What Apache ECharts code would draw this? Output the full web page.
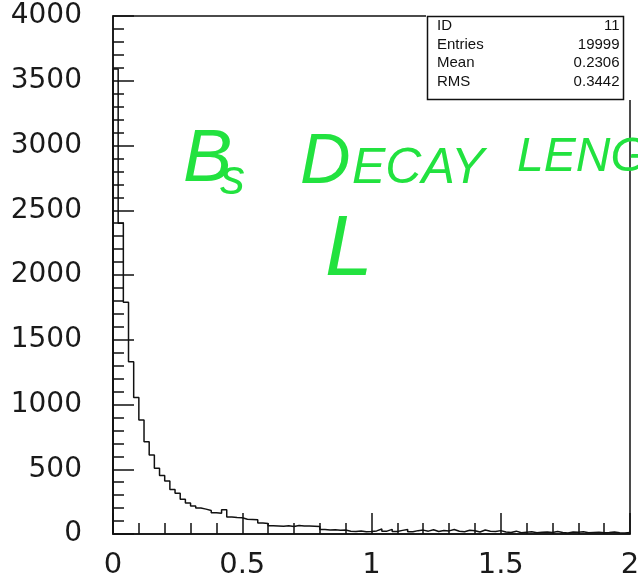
<!DOCTYPE html>
<html>
<head>
<meta charset="utf-8">
<script src="https://cdn.jsdelivr.net/npm/echarts@6/dist/echarts.min.js"></script>
<style>
  html, body { margin: 0; padding: 0; background: #fff; }
  #chart { width: 638px; height: 577px; }
</style>
</head>
<body>
<div id="chart"></div>
<script>
// Histogram of the Bs decay length L: 100 bins of width 0.02 between 0 and 2
const binStart = 0;
const binWidth = 0.02;
const counts = [
  3590, 2400, 1790, 1330, 1055, 880, 713, 610, 507, 452,
  410, 343, 314, 268, 240, 216, 200, 192, 182, 165,
  160, 188, 132, 128, 126, 114, 112, 110, 84, 82,
  64, 62, 60, 63, 58, 66, 61, 62, 60, 58,
  34, 31, 33, 29, 31, 22, 19, 23, 17, 19,
  24, 38, 22, 36, 20, 28, 34, 18, 26, 30,
  22, 33, 19, 27, 24, 35, 21, 18, 29, 25,
  16, 31, 22, 19, 26, 15, 12, 22, 10, 14,
  18, 9, 13, 16, 11, 20, 12, 8, 15, 13,
  17, 10, 12, 14, 9, 11, 16, 10, 8, 12
];

// Statistics box
const statNames = ['ID', 'Entries', 'Mean', 'RMS'];
const statValues = ['11', '19999', '0.2306', '0.3442'];

// Axis ranges
const xRange = [0, 2];
const yRange = [0, 4000];

// Step outline points: rise at the first edge, then one point per bin left edge,
// closing at the right end of the last bin.
const outline = [[binStart, 0]];
counts.forEach((c, i) => outline.push([+(binStart + i * binWidth).toFixed(4), c]));
outline.push([+(binStart + counts.length * binWidth).toFixed(4), counts[counts.length - 1]]);

const ink = '#111';
const green = '#22e23f';
const labelFont = '"DejaVu Sans", sans-serif';

const statGraphics = [];
statNames.forEach((name, i) => {
  const y = 25.5 + i * 18.9;
  statGraphics.push({
    type: 'text', x: 437, y: y, z: 12,
    style: { text: name, font: '15px "Liberation Sans", Arial, sans-serif', fill: '#111',
             textAlign: 'left', textVerticalAlign: 'middle' }
  });
  statGraphics.push({
    type: 'text', x: 619.5, y: y, z: 12,
    style: { text: statValues[i], font: '15px "Liberation Sans", Arial, sans-serif', fill: '#111',
             textAlign: 'right', textVerticalAlign: 'middle' }
  });
});

function hand(text, x, y, size) {
  return {
    type: 'text', x: x, y: y,
    style: {
      text: text,
      font: 'italic ' + size + 'px "Liberation Sans", Arial, sans-serif',
      fill: green,
      textAlign: 'left', textVerticalAlign: 'middle'
    }
  };
}

const chart = echarts.init(document.getElementById('chart'), null, { renderer: 'canvas' });
chart.setOption({
  animation: false,
  backgroundColor: '#fff',
  grid: {
    left: 113, right: 8, top: 16, bottom: 43,
    show: true, borderColor: ink, borderWidth: 1.5,
    containLabel: false, outerBoundsMode: 'none'
  },
  xAxis: {
    type: 'value', min: xRange[0], max: xRange[1], interval: 0.5,
    splitLine: { show: false },
    axisLine: { show: true, onZero: false, lineStyle: { color: ink, width: 1.5 } },
    axisTick: { show: true, inside: true, length: 21, lineStyle: { color: ink, width: 1.5 } },
    minorTick: { show: true, splitNumber: 5, length: 11, lineStyle: { color: ink, width: 1.5 } },
    axisLabel: {
      show: true, margin: 17, color: '#1a1a1a', fontSize: 29, fontFamily: labelFont,
      showMinLabel: true, showMaxLabel: true, hideOverlap: false,
      formatter: v => String(v)
    }
  },
  yAxis: {
    type: 'value', min: yRange[0], max: yRange[1], interval: 500,
    splitLine: { show: false },
    axisLine: { show: true, onZero: false, lineStyle: { color: ink, width: 1.5 } },
    axisTick: { show: true, inside: true, length: 21, lineStyle: { color: ink, width: 1.5 } },
    minorTick: { show: true, splitNumber: 5, length: 11, lineStyle: { color: ink, width: 1.5 } },
    axisLabel: {
      show: true, margin: 31, color: '#1a1a1a', fontSize: 28, fontFamily: labelFont,
      showMinLabel: true, showMaxLabel: true, hideOverlap: false,
      formatter: v => String(v)
    }
  },
  series: [{
    type: 'line',
    step: 'end',
    data: outline,
    symbol: 'none',
    clip: true,
    lineStyle: { color: ink, width: 1.5 }
  }],
  graphic: [
    // statistics panel
    { type: 'rect', shape: { x: 426, y: 8, width: 212, height: 92 }, style: { fill: '#fff' }, z: 10 },
    { type: 'rect', shape: { x: 427.5, y: 16.5, width: 196, height: 83 },
      style: { fill: '#fff', stroke: ink, lineWidth: 1.5 }, z: 11 },
    ...statGraphics,
    // handwritten annotation
    hand('B', 183, 160, 74),
    hand('s', 220, 180, 50),
    hand('D', 300, 164, 70),
    hand('ECAY', 352, 169, 50),
    hand('LENG', 517, 158, 48),
    hand('L', 325, 251, 86)
  ]
});
</script>
</body>
</html>
